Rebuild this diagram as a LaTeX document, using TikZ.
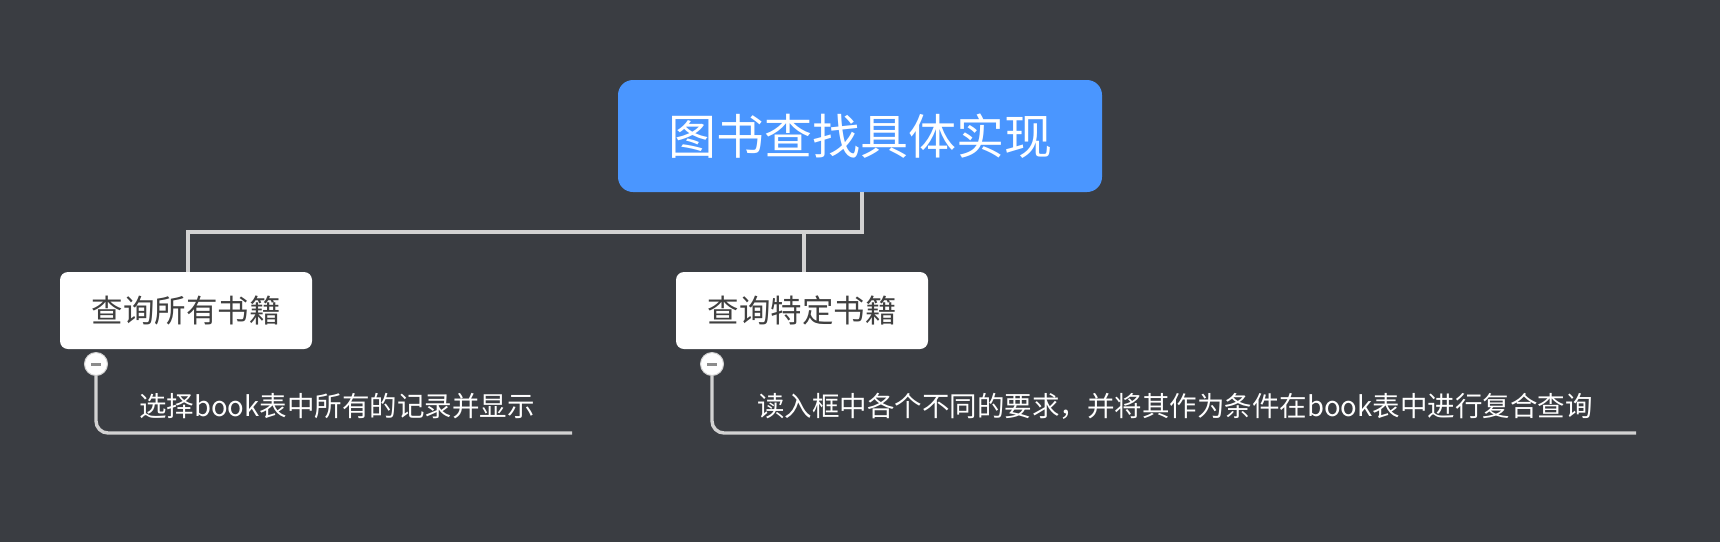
\documentclass[tikz,border=0pt]{standalone}
\usepackage{fontspec}
\newfontfamily\cjk{Noto Sans CJK SC}
\definecolor{bg}{RGB}{58,61,66}
\definecolor{rootblue}{RGB}{74,150,255}
\definecolor{linegray}{RGB}{210,210,210}
\definecolor{boxtext}{RGB}{64,64,64}
\definecolor{minusgray}{RGB}{140,140,140}
\tikzset{
  rootbox/.style={fill=rootblue, rounded corners=15pt, text=white, font=\cjk\fontsize{48}{56}\selectfont, inner sep=0pt, minimum width=484pt, minimum height=112pt},
  childbox/.style={fill=white, rounded corners=8pt, text=boxtext, font=\cjk\fontsize{31.5}{38}\selectfont, inner sep=0pt, minimum width=252pt, minimum height=77pt},
  notetext/.style={text=white, font=\cjk\fontsize{27.5}{33}\selectfont, inner sep=0pt, anchor=west},
  conn/.style={draw=linegray, line width=3.4pt},
  foldbtn/.style={circle, fill=white, draw=linegray, line width=1pt, minimum size=23pt, inner sep=0pt},
}
\begin{document}
\begin{tikzpicture}[x=1pt,y=-1pt]
\fill[bg] (0,0) rectangle (1720,542);
\useasboundingbox (0,0) rectangle (1720,542);

\node[rootbox] (root) at (860,136) {图书查找具体实现};
\node[childbox] (c1) at (186,310.5) {查询所有书籍};
\node[childbox] (c2) at (802,310.5) {查询特定书籍};

\coordinate (rb) at (862,192);
\coordinate (j1) at (862,232);
\coordinate (j2) at (188,232);
\draw[conn] (rb) -- (j1) -- (j2) -- (c1.north -| j2);
\draw[conn] (804,232) -- (c2.north -| 804,0);

% note 1
\node[foldbtn] (f1) at (96,364) {};
\coordinate (e1) at (572,433);
\draw[conn, rounded corners=12pt] (f1.south) -- (96,433) -- (e1);
\draw[minusgray, line width=3pt] ([xshift=-5pt]f1.center) -- ([xshift=5pt]f1.center);
\node[notetext] (n1) at (139,406) {选择book表中所有的记录并显示};

% note 2
\node[foldbtn] (f2) at (712,364) {};
\coordinate (e2) at (1636,433);
\draw[conn, rounded corners=12pt] (f2.south) -- (712,433) -- (e2);
\draw[minusgray, line width=3pt] ([xshift=-5pt]f2.center) -- ([xshift=5pt]f2.center);
\node[notetext] (n2) at (757,406) {读入框中各个不同的要求，并将其作为条件在book表中进行复合查询};
\end{tikzpicture}
\end{document}
